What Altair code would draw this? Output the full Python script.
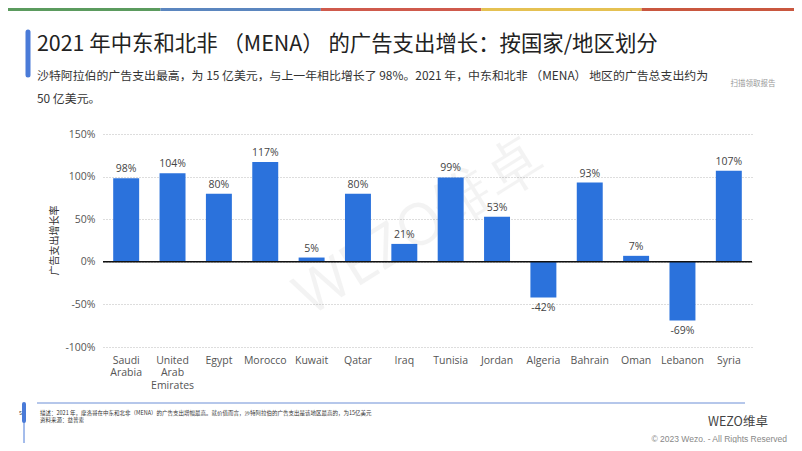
import altair as alt
import pandas as pd

countries = ["Saudi Arabia", "United Arab Emirates", "Egypt", "Morocco", "Kuwait", "Qatar",
             "Iraq", "Tunisia", "Jordan", "Algeria", "Bahrain", "Oman", "Lebanon", "Syria"]
values = [98, 104, 80, 117, 5, 80, 21, 99, 53, -42, 93, 7, -69, 107]
y_ticks = [-100, -50, 0, 50, 100, 150]

title_text = "2021 年中东和北非 （MENA） 的广告支出增长：按国家/地区划分"
subtitle_lines = ["沙特阿拉伯的广告支出最高，为 15 亿美元，与上一年相比增长了 98%。2021 年，中东和北非 （MENA） 地区的广告总支出约为",
                  "50 亿美元。"]
y_title = "广告支出增长率"
footer_lines = ["描述：2021 年，摩洛哥在中东和北非（MENA）的广告支出增幅最高。就价值而言，沙特阿拉伯的广告支出是该地区最高的，为15亿美元",
                "资料来源：益普索"]
qr_caption = "扫描领取报告"
logo_text = "WEZO维卓"
copyright_text = "© 2023 Wezo. - All Rights Reserved"
watermark = "WEZO维卓"
strip_colors = ["#5b9b5e", "#5b86bf", "#cf5a4c", "#e5c152", "#c9573f"]

CJK = "Noto Sans CJK SC"
LAT = "Open Sans"
W, H = 649, 213

df = pd.DataFrame({"country": countries, "value": values})
df["label"] = [f"{v}%" for v in values]

yscale = alt.Scale(domain=[-100, 150], nice=False, zero=False)
xenc = alt.X("country:N", sort=countries, title=None,
             scale=alt.Scale(paddingInner=0.44, paddingOuter=0.22),
             axis=alt.Axis(labelAngle=0, domain=False, ticks=False, labelPadding=8,
                           labelExpr="split(datum.label, ' ')", labelLineHeight=12.5,
                           labelFont=LAT, labelFontSize=10.5, labelColor="#555"))
yenc = alt.Y("value:Q", scale=yscale, title=y_title,
             axis=alt.Axis(values=y_ticks, labelExpr="datum.value + '%'", domain=False, ticks=False,
                           labelPadding=8, labelFont=LAT, labelFontSize=10.5, labelColor="#555",
                           grid=True, gridDash=[1, 2], gridColor="#bbbbbb",
                           titleFont=CJK, titleFontSize=10, titleFontWeight="normal",
                           titleColor="#333", titleX=-44, titleY=106))

base = alt.Chart(df)
bars = base.mark_bar(color="#2B72DC").encode(x=xenc, y=yenc)
pos_lbl = base.transform_filter("datum.value >= 0").mark_text(
    baseline="bottom", dy=-4, font=LAT, fontSize=10.5, color="#444").encode(
    x=alt.X("country:N", sort=countries), y=alt.Y("value:Q", scale=yscale), text="label:N")
neg_lbl = base.transform_filter("datum.value < 0").mark_text(
    baseline="top", dy=5, font=LAT, fontSize=10.5, color="#444").encode(
    x=alt.X("country:N", sort=countries), y=alt.Y("value:Q", scale=yscale), text="label:N")
zero = alt.Chart(pd.DataFrame({"value": [0]})).mark_rule(color="#111", strokeWidth=1.6).encode(
    y=alt.Y("value:Q", scale=yscale))


def txt(t, x, y, size, color="#222", font=CJK, align="left", **kw):
    return alt.Chart(pd.DataFrame({"t": [t]})).mark_text(
        align=align, baseline="middle", font=font, fontSize=size, color=color, **kw).encode(
        x=alt.value(x), y=alt.value(y), text="t:N")


ox, oy = 103, 134  # plot origin on page
layers = []

# watermark (behind bars)
layers.append(txt(watermark, 420 - ox, 228 - oy, 58, color="#000000", font=LAT, align="center",
                  angle=328, opacity=0.045))
layers += [bars, zero, pos_lbl, neg_lbl]

# title area
layers.append(alt.Chart(pd.DataFrame({"a": [0]})).mark_rule(color="#4a7bd8", strokeWidth=5, strokeCap="round").encode(
    x=alt.value(28 - ox), y=alt.value(32 - oy), y2=alt.value(75 - oy)))
layers.append(txt(title_text, 37 - ox, 45 - oy, 21.4, color="#222"))
layers.append(txt(subtitle_lines[0], 37 - ox, 76 - oy, 11.9, color="#333"))
layers.append(txt(subtitle_lines[1], 37 - ox, 99 - oy, 11.9, color="#333"))
layers.append(txt(qr_caption, 753 - ox, 84 - oy, 7.5, color="#999", align="center"))

# colored top strip
for i, c in enumerate(strip_colors):
    layers.append(alt.Chart(pd.DataFrame({"a": [0]})).mark_rect(color=c).encode(
        x=alt.value(i * 160.4 - ox), x2=alt.value((i + 1) * 160.4 - ox),
        y=alt.value(8 - oy), y2=alt.value(11 - oy)))

# footer
layers.append(alt.Chart(pd.DataFrame({"a": [0]})).mark_rule(color="#6d8fd6", strokeWidth=1).encode(
    x=alt.value(37 - ox), x2=alt.value(745 - ox), y=alt.value(403 - oy)))
layers.append(alt.Chart(pd.DataFrame({"a": [0]})).mark_rule(color="#4a7bd8", strokeWidth=4, strokeCap="round").encode(
    x=alt.value(24 - ox), y=alt.value(404 - oy), y2=alt.value(421 - oy)))
layers.append(alt.Chart(pd.DataFrame({"a": [0]})).mark_rule(color="#4a7bd8", strokeWidth=1).encode(
    x=alt.value(24 - ox), y=alt.value(421 - oy), y2=alt.value(443 - oy)))
layers.append(txt("5", 19 - ox, 413 - oy, 5.5, color="#333"))
layers.append(txt(footer_lines[0], 40 - ox, 413 - oy, 5.5, color="#333"))
layers.append(txt(footer_lines[1], 40 - ox, 420 - oy, 5.5, color="#333"))
layers.append(txt(logo_text, 708 - ox, 422 - oy, 12.5, color="#444"))
layers.append(txt(copyright_text, 787 - ox, 439 - oy, 8.5, color="#888", font="Liberation Sans", align="right"))

chart = alt.layer(*layers).properties(
    width=W, height=H,
    autosize=alt.AutoSizeParams(type="none"),
    padding={"left": ox - 8, "top": oy - 8, "right": 794 - ox - W, "bottom": 443 - oy - H},
    background="white",
).configure_view(stroke=None)

chart.save("out.html", embed_options={"renderer": "svg", "actions": False})
